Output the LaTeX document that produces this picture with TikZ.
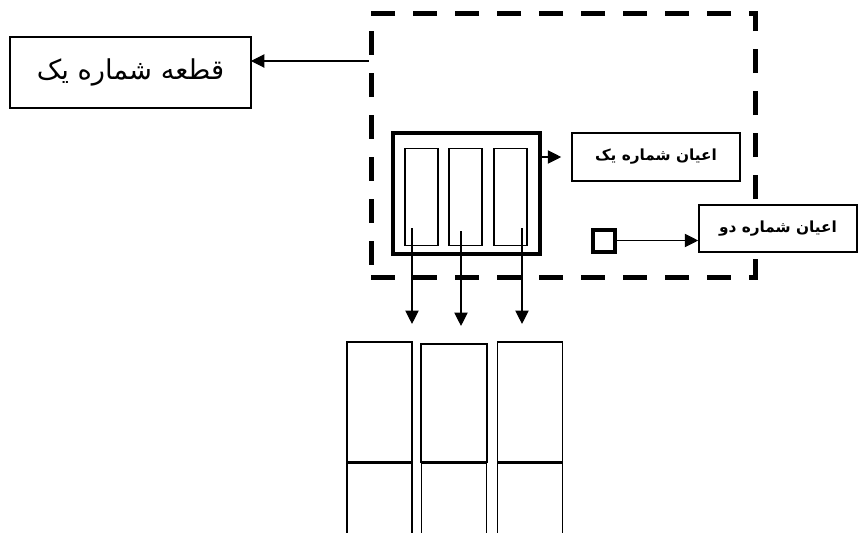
\documentclass[tikz,border=0pt]{standalone}
\usepackage{fontspec}
\newfontfamily\farsi[Script=Arabic]{DejaVu Sans}
\TeXXeTstate=1
\usetikzlibrary{arrows.meta,calc}

\begin{document}
\begin{tikzpicture}[x=0.75pt,y=-0.75pt,
  box/.style={draw,fill=white,line width=1.2pt,inner sep=0pt},
  cell/.style={draw,line width=1pt,inner sep=0pt,minimum width=24.75pt,minimum height=72.75pt},
  col/.style={draw,line width=1.1pt,inner sep=0pt,minimum width=49pt},
  link/.style={line width=0.8pt,-{Triangle[length=10pt,width=10pt]}}]
  \clip (0,0) rectangle (859,532);
  % dashed frame
  \node[draw,line width=3.75pt,dash pattern=on 18pt off 13.5pt,inner sep=0pt,
        minimum width=288pt,minimum height=198pt] (frame) at (563,145) {};
  \node[box,minimum width=180.75pt,minimum height=53.25pt,
        font=\farsi\fontsize{20.5}{24}\selectfont] (piece) at (130.5,72.5) {\beginR قطعه شماره یک\endR};
  \coordinate (pieceIn) at (251,61);
  \draw[link] (frame.west |- pieceIn) -- (pieceIn);
  % store with three cells
  \node[draw,line width=3pt,inner sep=0pt,minimum width=110.25pt,minimum height=90.75pt] (store) at (466.5,193.5) {};
  \foreach \i/\x in {1/421.5,2/465.5,3/510.5}
    \node[cell] (c\i) at (\x,197) {};
  \node[box,minimum width=126pt,minimum height=36pt,
        font=\farsi\bfseries\fontsize{11.5}{14}\selectfont] (inst1) at (656,157) {\beginR اعیان شماره یک\endR};
  \draw[link] (store.east |- inst1) -- ([xshift=-7.5pt]inst1.west);
  % second instance
  \node[box,minimum width=118.5pt,minimum height=35.25pt,
        font=\farsi\bfseries\fontsize{11.5}{14}\selectfont] (inst2) at (778,228.5) {\beginR اعیان شماره دو\endR};
  \node[draw,line width=3pt,inner sep=0pt,minimum size=16.5pt] (obj) at (604,240.5) {};
  \draw[link] (obj) -- (obj -| inst2.west);
  % columns below
  \node[col,minimum height=90pt] (col1) at (379.5,402) {};
  \node[col,minimum width=49.5pt,minimum height=88.5pt] (col2) at (454,403) {};
  \node[col,minimum height=90pt] (col3) at (530,402) {};
  \foreach \i in {1,2,3}
    \node[col,minimum height=103.5pt,anchor=north] (b\i) at (col\i.south) {};
  \coordinate (s1) at (412,228);
  \coordinate (s2) at (461,231);
  \coordinate (s3) at (522,228);
  \foreach \i in {1,2,3}
    \draw[link,shorten >=13pt] (s\i) -- (s\i |- col\i.north);
\end{tikzpicture}
\end{document}
